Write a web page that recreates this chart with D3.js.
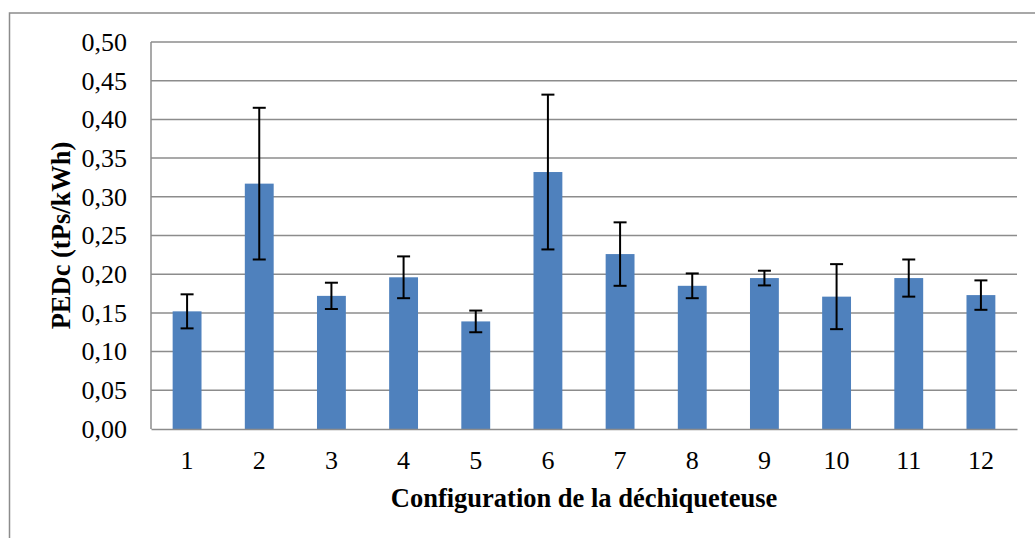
<!DOCTYPE html>
<html lang="fr">
<head>
<meta charset="UTF-8">
<title>PEDc par configuration</title>
<script src="https://d3js.org/d3.v7.min.js"></script>
<style>
    body { margin: 0; background: #fff; }
    svg { display: block; font-family: "Liberation Serif", "Times New Roman", serif; }
    .grid line { stroke: #8c8c8c; stroke-width: 1.5; }
    .axis path, .axis line { stroke: #8c8c8c; stroke-width: 1.5; }
    .axis text { font-size: 26px; fill: #000; }
    .title { font-size: 26.5px; font-weight: bold; fill: #000; }
    .bar { fill: #4f81bd; }
    .err { stroke: #000; stroke-width: 2; }
</style>
</head>
<body>
<svg width="1035" height="538"></svg>
<script>
    // values
    const categories = ["1", "2", "3", "4", "5", "6", "7", "8", "9", "10", "11", "12"];
    const values = [0.152, 0.317, 0.172, 0.196, 0.139, 0.332, 0.226, 0.185, 0.195, 0.171, 0.195, 0.173];
    const errors = [0.022, 0.098, 0.017, 0.027, 0.014, 0.100, 0.041, 0.016, 0.0095, 0.042, 0.024, 0.019];
    const yTicks = [0, 0.05, 0.10, 0.15, 0.20, 0.25, 0.30, 0.35, 0.40, 0.45, 0.50];

    const svg = d3.select("svg");
    const margin = {top: 42, left: 151, right: 1017, bottom: 429};

    // outer chart frame (runs off the right and bottom edges)
    svg.append("rect")
        .attr("x", 9.5).attr("y", 13)
        .attr("width", 1100).attr("height", 600)
        .attr("fill", "none")
        .attr("stroke", "#8c8c8c")
        .attr("stroke-width", 1.5);

    const x = d3.scaleBand()
        .domain(categories)
        .range([margin.left, margin.right])
        .paddingInner(0.6)
        .paddingOuter(0.3);

    const y = d3.scaleLinear()
        .domain([0, 0.5])
        .range([margin.bottom, margin.top]);

    const fr = d3.formatLocale({decimal: ",", thousands: " ", grouping: [3], currency: ["", "€"]});
    const fmt = fr.format(".2f");

    // gridlines
    svg.append("g")
        .attr("class", "grid")
        .selectAll("line")
        .data(yTicks.slice(1))
        .join("line")
        .attr("x1", margin.left).attr("x2", margin.right)
        .attr("y1", d => y(d)).attr("y2", d => y(d));

    // bars
    svg.append("g")
        .selectAll("rect")
        .data(values)
        .join("rect")
        .attr("class", "bar")
        .attr("x", (d, i) => x(categories[i]))
        .attr("y", d => y(d))
        .attr("width", x.bandwidth())
        .attr("height", d => y(0) - y(d));

    // error bars
    const eb = svg.append("g").selectAll("g")
        .data(values)
        .join("g")
        .attr("transform", (d, i) => `translate(${x(categories[i]) + x.bandwidth() / 2},0)`);
    eb.append("line").attr("class", "err")
        .attr("y1", (d, i) => y(d - errors[i]))
        .attr("y2", (d, i) => y(d + errors[i]));
    eb.append("line").attr("class", "err")
        .attr("x1", -6.5).attr("x2", 6.5)
        .attr("y1", (d, i) => y(d + errors[i]))
        .attr("y2", (d, i) => y(d + errors[i]));
    eb.append("line").attr("class", "err")
        .attr("x1", -6.5).attr("x2", 6.5)
        .attr("y1", (d, i) => y(d - errors[i]))
        .attr("y2", (d, i) => y(d - errors[i]));

    // y axis
    const yAxis = svg.append("g")
        .attr("class", "axis")
        .attr("transform", `translate(${margin.left},0)`)
        .call(d3.axisLeft(y).tickValues(yTicks).tickFormat(fmt).tickSize(0).tickPadding(24));
    yAxis.attr("font-family", null).attr("font-size", null);
    yAxis.select(".domain").attr("d", `M0,${margin.top}V${margin.bottom}`);

    // x axis
    const xAxis = svg.append("g")
        .attr("class", "axis")
        .attr("transform", `translate(0,${margin.bottom})`)
        .call(d3.axisBottom(x).tickSize(0).tickPadding(22));
    xAxis.attr("font-family", null).attr("font-size", null);

    // axis titles
    svg.append("text")
        .attr("class", "title")
        .attr("x", (margin.left + margin.right) / 2)
        .attr("y", 507)
        .attr("text-anchor", "middle")
        .text("Configuration de la déchiqueteuse");

    svg.append("text")
        .attr("class", "title")
        .attr("transform", `translate(70,${(margin.top + margin.bottom) / 2}) rotate(-90)`)
        .attr("text-anchor", "middle")
        .text("PEDc (tPs/kWh)");
</script>
</body>
</html>
